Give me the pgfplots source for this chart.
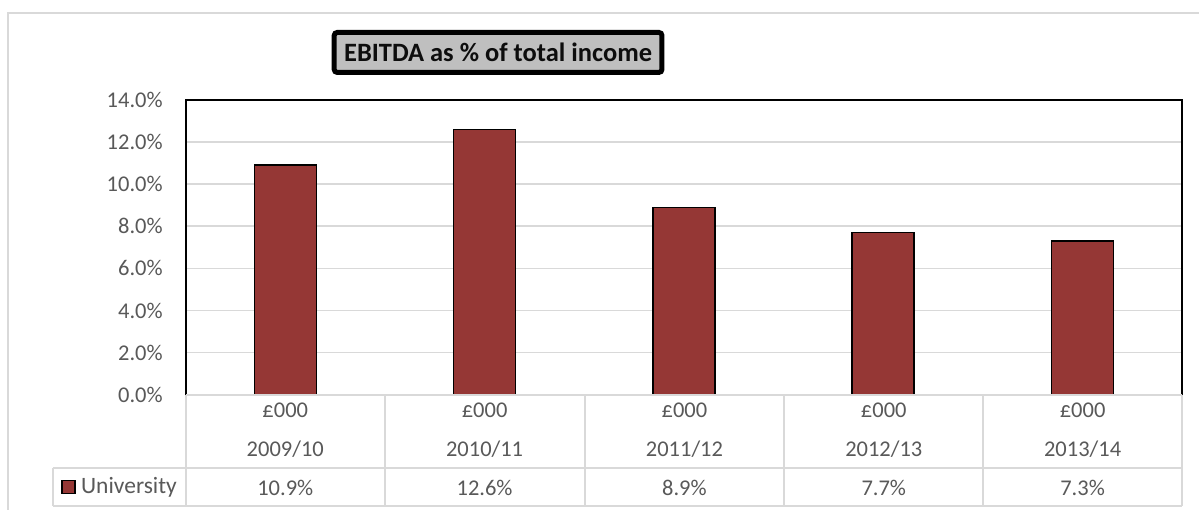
\documentclass[border=0pt]{standalone}
\usepackage{pgfplots}
\pgfplotsset{compat=1.18}
\usepackage{fontspec}
\setmainfont{Carlito}
\definecolor{barred}{HTML}{953735}
\definecolor{gridgray}{HTML}{D9D9D9}
\definecolor{txt}{HTML}{595959}
\definecolor{titlegray}{HTML}{BFBFBF}
\begin{document}
\begin{tikzpicture}[x=1pt,y=1pt]
\fill[white] (0,0) rectangle (1200,510);
\draw[gridgray, line width=2pt] (8,0) -- (8,497) -- (1200,497);
\begin{axis}[at={(186pt,115pt)}, anchor=south west, scale only axis,
  width=997pt, height=295pt, xmin=-0.5, xmax=4.5, ymin=0, ymax=14,
  ytick={0,2,4,6,8,10,12,14}, xtick=\empty, ymajorgrids,
  grid style={gridgray, line width=1.5pt}, axis line style={draw=none},
  major tick length=0pt, clip=false,
  /pgf/number format/assume math mode=true,
  yticklabel={\pgfmathprintnumber[fixed, fixed zerofill, precision=1]{\tick}\%},
  yticklabel style={font=\fontsize{22.5}{26}\selectfont, text=txt, anchor=east, inner sep=0pt, xshift=-23pt},
  ybar, bar width=62pt, bar shift=0pt]
\addplot[fill=barred, draw=black, line width=1.5pt] coordinates {(0,10.9) (1,12.6) (2,8.9) (3,7.7) (4,7.3)};
\draw[black, line width=2pt] (rel axis cs:0,0) -- (rel axis cs:0,1) -- (rel axis cs:1,1) -- (rel axis cs:1,0);
\end{axis}
% data table
\draw[gridgray, line width=2pt] (186,115) -- (1183,115);
\draw[gridgray, line width=2pt] (53,42) -- (1183,42);
\draw[gridgray, line width=2pt] (53,4) -- (1183,4);
\foreach \x in {186,385,585,785,984,1183} \draw[gridgray, line width=2pt] (\x,115) -- (\x,4);
\draw[gridgray, line width=2pt] (53,42) -- (53,4);
\foreach \x/\yr/\v in {285.5/2009\slash 10/10.9\%, 485/2010\slash 11/12.6\%, 685/2011\slash 12/8.9\%, 884.5/2012\slash 13/7.7\%, 1083.5/2013\slash 14/7.3\%} {
  \node[text=txt, font=\fontsize{22.5}{26}\selectfont, inner sep=0pt] at (\x,99) {£000};
  \node[text=txt, font=\fontsize{22.5}{26}\selectfont, inner sep=0pt] at (\x,60) {\yr};
  \node[text=txt, font=\fontsize{22.5}{26}\selectfont, inner sep=0pt] at (\x,22) {\v};
}
\draw[black, line width=1.2pt, fill=barred] (62,16) rectangle (75,29);
\node[text=txt, font=\fontsize{23.5}{27}\selectfont, inner sep=0pt, anchor=west] at (81,22) {University};
% title
\draw[black, line width=5pt, rounded corners=3pt, fill=titlegray] (334.5,477.5) rectangle (662.5,437.5);
\node[font=\bfseries\fontsize{26.5}{30}\selectfont, text=black!95, inner sep=0pt] at (498.5,457.5) {EBITDA as \% of total income};
\end{tikzpicture}
\end{document}
